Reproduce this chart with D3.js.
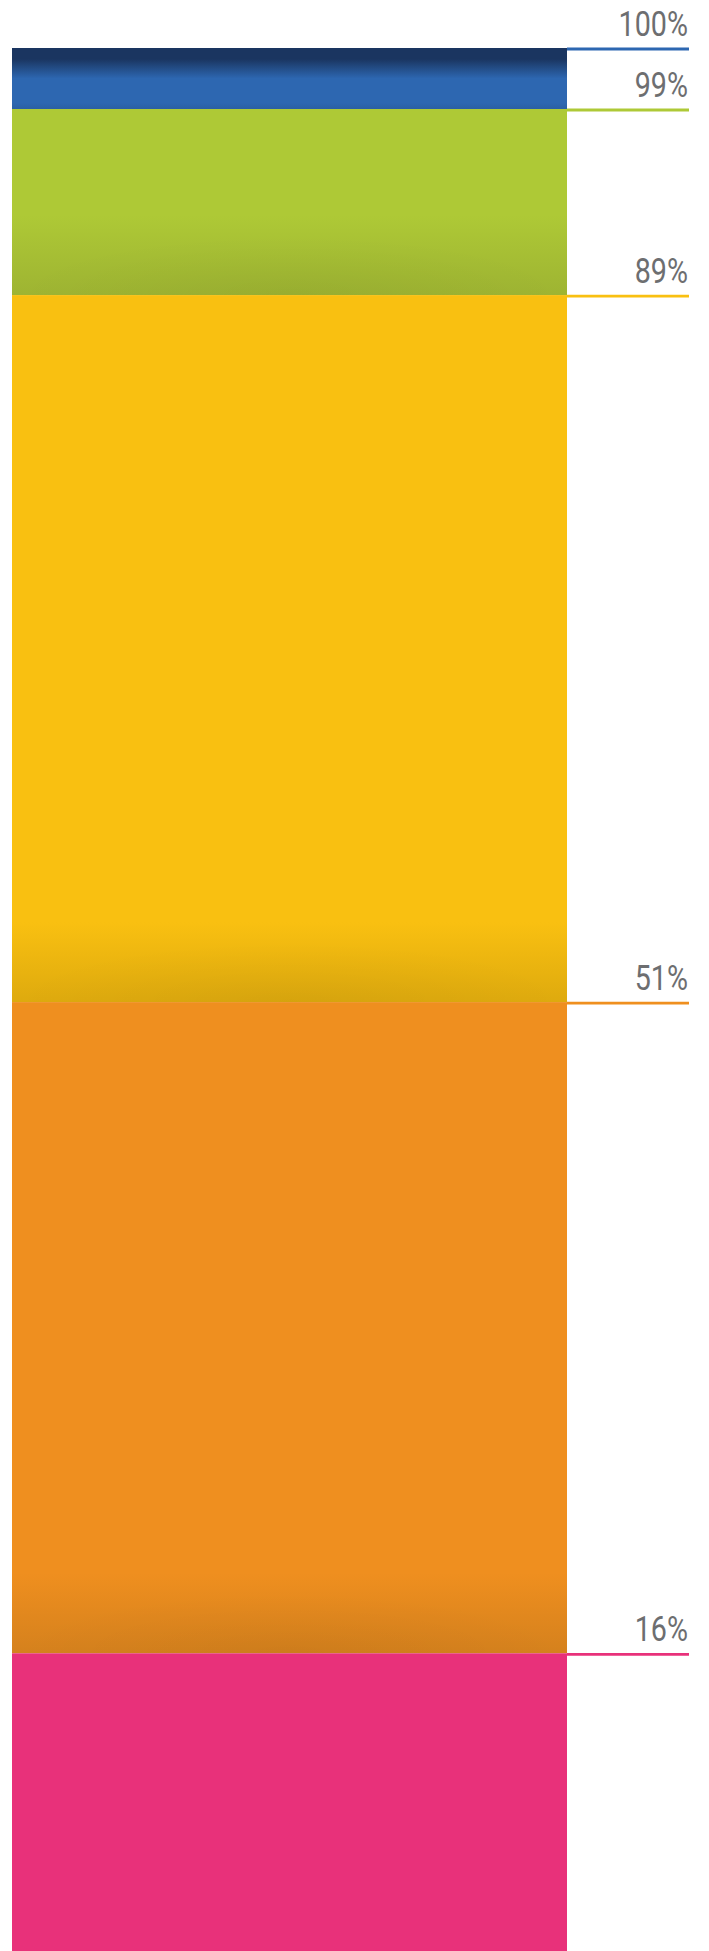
<!DOCTYPE html>
<html>
<head>
<meta charset="utf-8">
<script src="https://cdn.jsdelivr.net/npm/d3@7"></script>
<style>
  html, body { margin: 0; padding: 0; background: #ffffff; }
  svg { display: block; }
</style>
</head>
<body>
<div id="chart"></div>
<script>
// ---- data ----
const tops = [100, 99, 89, 51, 16];          // top value of each stacked segment
const bottoms = [99, 89, 51, 16, 0];        // bottom value of each segment
const tickLabels = ["100%", "99%", "89%", "51%", "16%"];
const baseColors = ["#2d67b1", "#aec936", "#f9c011", "#ef8f1f", "#e8317a"];
const shadeColors = ["#1a3560", "#9eb432", "#deaa0e", "#d5811d", "#e8317a"];

const W = 709, H = 1951;
const svg = d3.select("#chart").append("svg").attr("width", W).attr("height", H);
const defs = svg.append("defs");

// vertical scale (top 1% segment is given extra room for visibility)
const y = d3.scaleLinear().domain([0, 99, 100]).range([H, 109, 48]);
const x = d3.scaleLinear().domain([0, 1]).range([12, 567]);
const lineEnd = 689;

const segs = tops.map((t, i) => ({ top: t, bottom: bottoms[i], label: tickLabels[i], c: baseColors[i], s: shadeColors[i], i }));

segs.forEach(d => {
  const h = y(d.bottom) - y(d.top);
  const g = defs.append("linearGradient").attr("id", "g" + d.i)
    .attr("x1", 0).attr("y1", 0).attr("x2", 0).attr("y2", 1);
  if (d.i === 0) {
    g.append("stop").attr("offset", 0).attr("stop-color", d.s);
    g.append("stop").attr("offset", 0.18).attr("stop-color", d.s);
    g.append("stop").attr("offset", 0.5).attr("stop-color", d.c);
    g.append("stop").attr("offset", 0.9).attr("stop-color", d.c);
    g.append("stop").attr("offset", 1).attr("stop-color", "#2b5fa3");
  } else if (d.i === 4) {
    g.append("stop").attr("offset", 0).attr("stop-color", d.c);
    g.append("stop").attr("offset", 1).attr("stop-color", d.c);
  } else {
    const f = Math.max(0, 1 - 80 / h);
    g.append("stop").attr("offset", 0).attr("stop-color", d.c);
    g.append("stop").attr("offset", f).attr("stop-color", d.c);
    g.append("stop").attr("offset", 1).attr("stop-color", d.s);
  }
  const r = defs.append("radialGradient").attr("id", "r" + d.i)
    .attr("cx", 0.5).attr("cy", 1).attr("r", 0.5);
  r.append("stop").attr("offset", 0).attr("stop-color", "#000").attr("stop-opacity", 0.04);
  r.append("stop").attr("offset", 1).attr("stop-color", "#000").attr("stop-opacity", 0);
});

const bars = svg.append("g");
bars.selectAll("rect.seg").data(segs).join("rect")
  .attr("class", "seg")
  .attr("x", x(0)).attr("width", x(1) - x(0))
  .attr("y", d => y(d.top)).attr("height", d => y(d.bottom) - y(d.top))
  .attr("fill", d => `url(#g${d.i})`);

bars.selectAll("rect.shade").data(segs.filter(d => d.i > 0 && d.i < 4)).join("rect")
  .attr("class", "shade")
  .attr("x", x(0)).attr("width", x(1) - x(0))
  .attr("y", d => Math.max(y(d.top), y(d.bottom) - 120)).attr("height", d => Math.min(120, y(d.bottom) - y(d.top)))
  .attr("fill", d => `url(#r${d.i})`);

// marker lines
svg.append("g").selectAll("line").data(segs).join("line")
  .attr("x1", x(1)).attr("x2", lineEnd)
  .attr("y1", d => y(d.top) + 1).attr("y2", d => y(d.top) + 1)
  .attr("stroke", d => d.c).attr("stroke-width", 2.8);

// labels (condensed look: horizontally compressed Roboto)
svg.append("g").selectAll("text").data(segs).join("text")
  .attr("transform", d => `translate(${lineEnd - 1},${y(d.top) - 12}) scale(0.82,1)`)
  .attr("text-anchor", "end")
  .attr("font-family", "Roboto, 'Liberation Sans Narrow', sans-serif")
  .attr("font-size", 35)
  .attr("fill", "#6d6e70")
  .text(d => d.label);
</script>
</body>
</html>
